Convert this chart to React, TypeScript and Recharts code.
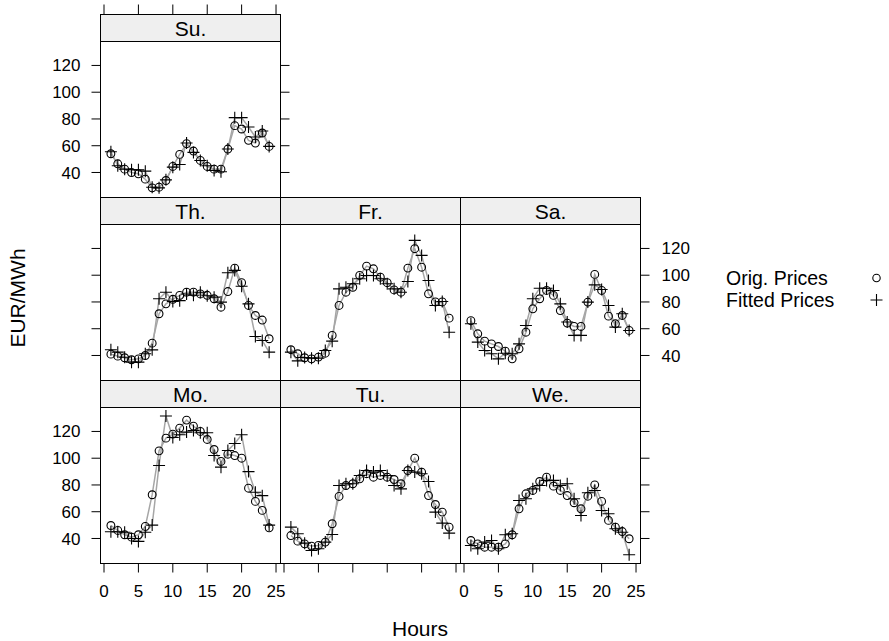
import React from 'react';
import { ComposedChart, Line, XAxis, YAxis } from 'recharts';

const hours = [1, 2, 3, 4, 5, 6, 7, 8, 9, 10, 11, 12, 13, 14, 15, 16, 17, 18, 19, 20, 21, 22, 23, 24];

const suOrig = [54, 46.5, 42.5, 40, 39, 35, 28.5, 29, 34, 44.5, 53.5, 61.5, 56, 49, 44.5, 42.5, 42.5, 57.5, 75, 72.5, 64, 62, 69.5, 59.5];
const suFit = [55.5, 45, 42.5, 42, 42, 41, 29, 28.5, 34.5, 44, 46, 62, 55, 49, 45, 41.5, 40.5, 57.5, 81, 81, 74, 66.5, 71, 59.5];

const thOrig = [41, 39.5, 38.3, 36.8, 37.5, 40, 49.2, 71.2, 78.6, 82, 84.9, 87.3, 87.3, 86, 85, 82.4, 76.1, 87.8, 105.3, 94.4, 77.4, 69.9, 66.5, 52.5];
const thFit = [44.3, 42.5, 38.7, 35, 35, 41.3, 44.2, 82.4, 87.3, 80.4, 81, 86, 85, 87.3, 84.7, 83.6, 79.9, 101.8, 103.6, 91.8, 78.6, 54.2, 51.2, 42.5];

const frOrig = [44.3, 41.3, 38.3, 37.5, 38.8, 41.7, 55, 77.4, 87.3, 91, 99.8, 106.8, 104.8, 98.5, 94.4, 89, 87.3, 105.3, 119.8, 106, 86.1, 80, 80, 67.9];
const frFit = [42.5, 36, 38.5, 38, 38, 43.7, 50.7, 89.8, 91, 93.6, 97.3, 99.8, 99.8, 97.3, 93.6, 89.8, 87.3, 95.3, 126, 114.8, 96, 77.4, 80.4, 57.4];

const saOrig = [66, 56.2, 50.7, 48.7, 46.7, 43.2, 37.5, 45, 57.4, 74.9, 82.4, 88.6, 84.9, 73.6, 64.2, 61.7, 61.7, 79.9, 100.6, 88.6, 69.4, 63.7, 69.9, 58.7];
const saFit = [63.7, 50, 43.7, 41.3, 37.5, 41.7, 41.3, 48.7, 62.4, 82.4, 90.3, 90.3, 88.6, 78.6, 65, 55, 55, 79.9, 92.8, 89.3, 77.4, 61.2, 71.2, 58.7];

const moOrig = [49.7, 46, 42.8, 41, 42.8, 49, 72.7, 105.5, 115, 118, 122.5, 128.5, 124, 120, 114, 106.5, 97.6, 103, 102, 100, 77.6, 67.7, 61, 48];
const moFit = [45, 45, 44.7, 40, 37.8, 44.7, 50, 94.6, 131.5, 115.5, 117.5, 119.5, 120.7, 119, 119, 102, 93.3, 105.8, 111, 117.5, 90, 74.6, 72, 50];

const tuOrig = [42.2, 38, 36, 34.3, 34.8, 37.3, 51, 71.4, 79.6, 80.9, 84.6, 88.4, 85.8, 87.1, 85.8, 84.1, 80.9, 90.8, 100, 89.6, 72.1, 65.4, 59.7, 48.5];
const tuFit = [48.5, 43.5, 36.5, 31, 32.3, 37.3, 43, 79.6, 80.9, 80.9, 87.1, 90.8, 89.6, 90.8, 87.1, 79.6, 77.1, 90.8, 89.6, 88.4, 82.6, 59.7, 51.5, 44];

const weOrig = [38.5, 36, 33.5, 33.5, 33.5, 36, 42.8, 62.2, 73.4, 75.9, 82.6, 85.8, 79.1, 75.9, 72.1, 66.7, 62.2, 71.6, 80.1, 67.7, 53.5, 48.5, 45.2, 39.8];
const weFit = [34.8, 32.3, 37.3, 38.5, 32.3, 42.8, 43.5, 68.4, 69.7, 77.1, 79.6, 83.4, 83.4, 79.6, 80.9, 69.7, 57.2, 74.2, 75.9, 60.9, 58.5, 47.3, 44.7, 27.8];

const xTicks = [0, 5, 10, 15, 20, 25];
const yTicks = [40, 60, 80, 100, 120];
const xDomain: [number, number] = [-0.51, 25.65];
const yDomain: [number, number] = [21.3, 137.9];

const legendLabels = ['Orig. Prices', 'Fitted Prices'];
const xTitle = 'Hours';
const yTitle = 'EUR/MWh';

const W = 889;
const H = 641;
const COLS = [100.5, 280.5, 460.5];
const ROWS = [41.5, 224.5, 407.5];
const PW = 180;
const PH = 156;
const STRIP = 27;
const TICK = 9;
const FONT = '"Liberation Sans", Arial, Helvetica, sans-serif';
const LINE_COLOR = '#a6a6a6';
const TICK_FONT = 17;
const TEXT_FONT = 21;
const LEGEND_FONT = 19.5;

type Side = 'labels' | 'ticks' | null;
interface PanelCfg {
  name: string;
  orig: number[];
  fit: number[];
  col: number;
  row: number;
  left: Side;
  right: Side;
  top: Side;
  bottom: Side;
}

const panels: PanelCfg[] = [
  { name: 'Su.', orig: suOrig, fit: suFit, col: 0, row: 0, left: 'labels', right: 'ticks', top: 'ticks', bottom: null },
  { name: 'Th.', orig: thOrig, fit: thFit, col: 0, row: 1, left: 'ticks', right: null, top: null, bottom: null },
  { name: 'Fr.', orig: frOrig, fit: frFit, col: 1, row: 1, left: null, right: null, top: null, bottom: null },
  { name: 'Sa.', orig: saOrig, fit: saFit, col: 2, row: 1, left: null, right: 'labels', top: null, bottom: null },
  { name: 'Mo.', orig: moOrig, fit: moFit, col: 0, row: 2, left: 'labels', right: null, top: null, bottom: 'labels' },
  { name: 'Tu.', orig: tuOrig, fit: tuFit, col: 1, row: 2, left: null, right: null, top: null, bottom: 'ticks' },
  { name: 'We.', orig: weOrig, fit: weFit, col: 2, row: 2, left: null, right: 'ticks', top: null, bottom: 'labels' },
];

const CircleDot = (p: any) => {
  if (p.cx == null || p.cy == null) return <g key={`c${p.index}`} />;
  return <circle key={`c${p.index}`} cx={p.cx} cy={p.cy} r={3.9} fill="none" stroke="#000" strokeWidth={1.1} />;
};

const PlusDot = (p: any) => {
  if (p.cx == null || p.cy == null) return <g key={`p${p.index}`} />;
  const s = 6;
  return (
    <path
      key={`p${p.index}`}
      d={`M${p.cx - s},${p.cy}H${p.cx + s}M${p.cx},${p.cy - s}V${p.cy + s}`}
      stroke="#000"
      strokeWidth={1.1}
      fill="none"
    />
  );
};

const blank = () => '';

function Panel({ cfg }: { cfg: PanelCfg }) {
  const px = COLS[cfg.col];
  const py = ROWS[cfg.row];
  const WL = cfg.left ? 60 : 0;
  const WR = cfg.right ? 60 : 0;
  const HT = cfg.top ? 30 : 0;
  const HB = cfg.bottom ? 50 : 0;
  const margin = {
    left: px - WL,
    right: W - px - PW - WR,
    top: py - HT,
    bottom: H - py - PH - HB,
  };
  const data = hours.map((h, i) => ({ hour: h, orig: cfg.orig[i], fit: cfg.fit[i] }));
  const tickStyle = { fill: '#000', fontSize: TICK_FONT, fontFamily: FONT };
  const stripTop = py - STRIP;
  const TopTick = (p: any) => (
    <line x1={p.x} x2={p.x} y1={stripTop - 10} y2={stripTop} stroke="#000" strokeWidth={1} />
  );
  return (
    <div style={{ position: 'absolute', left: 0, top: 0 }}>
      <ComposedChart width={W} height={H} data={data} margin={margin}>
        <XAxis
          xAxisId="b"
          type="number"
          dataKey="hour"
          domain={xDomain}
          ticks={xTicks}
          allowDataOverflow
          interval={0}
          orientation="bottom"
          hide={!cfg.bottom}
          height={HB || 30}
          axisLine={false}
          tickLine={{ stroke: '#000' }}
          tickSize={TICK}
          tickMargin={12}
          tick={tickStyle}
          tickFormatter={cfg.bottom === 'labels' ? undefined : blank}
        />
        {cfg.top && (
          <XAxis
            xAxisId="t"
            type="number"
            dataKey="hour"
            domain={xDomain}
            ticks={xTicks}
            allowDataOverflow
            interval={0}
            orientation="top"
            height={HT}
            axisLine={false}
            tickLine={false}
            tick={TopTick}
          />
        )}
        <YAxis
          yAxisId="l"
          type="number"
          domain={yDomain}
          ticks={yTicks}
          allowDataOverflow
          interval={0}
          orientation="left"
          hide={!cfg.left}
          width={WL || 60}
          axisLine={false}
          tickLine={{ stroke: '#000' }}
          tickSize={TICK}
          tickMargin={11}
          tick={tickStyle}
          tickFormatter={cfg.left === 'labels' ? undefined : blank}
        />
        {cfg.right && (
          <YAxis
            yAxisId="r"
            type="number"
            domain={yDomain}
            ticks={yTicks}
            allowDataOverflow
            interval={0}
            orientation="right"
            width={WR}
            axisLine={false}
            tickLine={{ stroke: '#000' }}
            tickSize={TICK}
            tickMargin={12}
            tick={tickStyle}
            tickFormatter={cfg.right === 'labels' ? undefined : blank}
          />
        )}
        <Line
          xAxisId="b"
          yAxisId="l"
          type="linear"
          dataKey="orig"
          stroke={LINE_COLOR}
          strokeWidth={1.5}
          dot={CircleDot}
          activeDot={false}
          isAnimationActive={false}
        />
        <Line
          xAxisId="b"
          yAxisId="l"
          type="linear"
          dataKey="fit"
          stroke={LINE_COLOR}
          strokeWidth={1.5}
          dot={PlusDot}
          activeDot={false}
          isAnimationActive={false}
        />
      </ComposedChart>
    </div>
  );
}

export default function App() {
  return (
    <div style={{ position: 'absolute', left: 0, top: 0, width: W, height: H, background: '#fff', fontFamily: FONT }}>
      {panels.map((cfg) => (
        <Panel key={cfg.name} cfg={cfg} />
      ))}
      <svg width={W} height={H} style={{ position: 'absolute', left: 0, top: 0, pointerEvents: 'none' }} fontFamily={FONT}>
        {panels.map((cfg) => {
          const px = COLS[cfg.col];
          const py = ROWS[cfg.row];
          return (
            <g key={cfg.name}>
              <rect x={px} y={py - STRIP} width={PW} height={STRIP} fill="#efefef" stroke="#000" strokeWidth={1} />
              <text x={px + PW / 2} y={py - STRIP + 21} textAnchor="middle" fontSize={TEXT_FONT} fill="#000">
                {cfg.name}
              </text>
              <rect x={px} y={py} width={PW} height={PH} fill="none" stroke="#000" strokeWidth={1} />
            </g>
          );
        })}
        <text x={726} y={284.5} fontSize={LEGEND_FONT} fill="#000">{legendLabels[0]}</text>
        <text x={726} y={306.5} fontSize={LEGEND_FONT} fill="#000">{legendLabels[1]}</text>
        <circle cx={876.5} cy={278} r={3.7} fill="none" stroke="#000" strokeWidth={1.1} />
        <path d="M870.5,300H882.5M876.5,294V306" stroke="#000" strokeWidth={1.1} fill="none" />
        <text transform="translate(25,298) rotate(-90)" textAnchor="middle" fontSize={TEXT_FONT} fill="#000">
          {yTitle}
        </text>
        <text x={420} y={636} textAnchor="middle" fontSize={TEXT_FONT} fill="#000">
          {xTitle}
        </text>
      </svg>
    </div>
  );
}
